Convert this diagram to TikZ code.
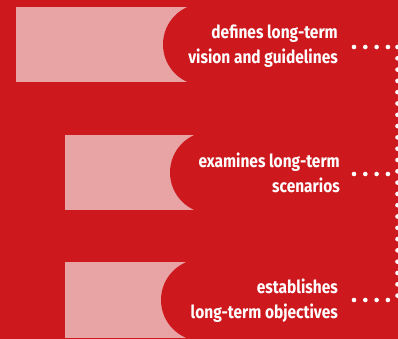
\documentclass[tikz,border=0pt]{standalone}
\usepackage{fontspec}
\setmainfont{Fira Sans}[FakeStretch=0.86]
\usepackage{tikz}
\usetikzlibrary{positioning}
\definecolor{StepRed}{HTML}{CD181E}
\definecolor{StepPink}{HTML}{E8A3A4}

\begin{document}
\begin{tikzpicture}[
        x=1pt,y=-1pt,
        panel/.style={rectangle,fill=StepPink,draw=none,inner sep=0pt,
          anchor=north west,minimum width=185pt,minimum height=75pt},
        disc/.style={circle,fill=StepRed,draw=none,inner sep=0pt,minimum size=82pt},
        tag/.style={text=white,align=right,anchor=east,inner sep=0pt,
          font=\bfseries\fontsize{18}{25}\selectfont},
        dots/.style={white,line width=4.6pt,line cap=round,dash pattern=on 0pt off 11.3pt}
      ]
        \fill[StepRed] (0,0) rectangle (398,339);
        \useasboundingbox (0,0) rectangle (398,339);
        % top row
        \node[panel] (visionbox) at (16,7) {};
        \node[disc] (visiondisc) at (204,44.5) {};
        \node[tag] (vision) at (338,46) {defines long-term\\vision and guidelines};
        % middle row
        \node[panel,minimum width=145pt] (scenbox) at (65,135) {};
        \node[disc] (scendisc) at (211,172.5) {};
        \node[tag] (scen) at (340,173) {examines long-term\\scenarios};
        % bottom row
        \node[panel,minimum width=140pt,minimum height=76pt] (objbox) at (65,262) {};
        \node[disc] (objdisc) at (202,300) {};
        \node[tag] (obj) at (338,301) {establishes\\long-term objectives};
        % dotted rail on the right
        \coordinate (visionend) at (397.5,47);
        \coordinate (scenend) at (397.5,174);
        \coordinate (objend) at (397.5,300);
        \draw[dots] ([xshift=16pt]vision.east |- visionend) -- (visionend);
        \draw[dots] ([xshift=14pt]scen.east |- scenend) -- (scenend);
        \draw[dots] ([xshift=16pt]obj.east |- objend) -- (objend);
        \draw[dots] (visionend) -- (objend);
      \end{tikzpicture}
\end{document}
